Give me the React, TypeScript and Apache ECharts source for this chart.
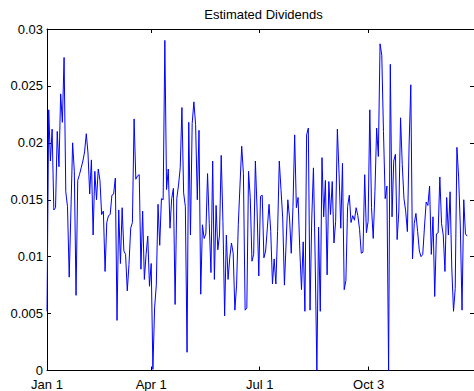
import React, { useEffect, useRef } from "react";
import * as echarts from "echarts";

const dividends: number[] = [
  0.0052, 0.0229, 0.0184, 0.0212, 0.0141, 0.0143, 0.021, 0.0179, 0.0243, 0.0218,
  0.0275, 0.0157, 0.0144, 0.0082, 0.014, 0.02, 0.0175, 0.0066, 0.0167, 0.0172,
  0.0178, 0.0184, 0.0192, 0.0208, 0.0191, 0.0155, 0.0185, 0.0119, 0.0175, 0.015,
  0.0177, 0.0167, 0.0137, 0.014, 0.0087, 0.013, 0.0136, 0.0137, 0.0154, 0.0155,
  0.0169, 0.0044, 0.0141, 0.0094, 0.0143, 0.0105, 0.0102, 0.007, 0.0093, 0.0125,
  0.013, 0.0221, 0.0168, 0.0171, 0.0172, 0.0089, 0.014, 0.008, 0.0102, 0.0118,
  0.0074, 0.0094,
  0.0001, 0.0055, 0.0075, 0.0146, 0.011, 0.0151, 0.015, 0.029, 0.0159, 0.0177,
  0.0125, 0.0151, 0.016, 0.0058, 0.0151, 0.0163, 0.0178, 0.0231, 0.0156, 0.0144,
  0.0016, 0.0218, 0.0119, 0.0217, 0.0236, 0.0216, 0.015, 0.0211, 0.0067, 0.0128,
  0.0116, 0.012, 0.0173, 0.0129, 0.0086, 0.0184, 0.008, 0.0145, 0.0106, 0.0119,
  0.0189, 0.0131, 0.0048, 0.0119, 0.008, 0.0099, 0.0112, 0.0103, 0.0053, 0.0075,
  0.0128, 0.0163, 0.0197, 0.0173, 0.0053, 0.0055, 0.0175, 0.0152, 0.0096, 0.0102,
  0.0184, 0.0141,
  0.0083, 0.0153, 0.0154, 0.0099, 0.0105, 0.0125, 0.0146, 0.0122, 0.0076, 0.0098,
  0.0076, 0.0122, 0.0184, 0.0159, 0.0134, 0.0075, 0.0112, 0.015, 0.0134, 0.0103,
  0.0143, 0.0207, 0.0143, 0.0152, 0.0106, 0.0071, 0.0113, 0.0052, 0.0207, 0.0213,
  0.0053, 0.0133, 0.0178, 0.0099, 0.0, 0.0126, 0.0052, 0.0187, 0.0135, 0.0167,
  0.0084, 0.0166, 0.0137, 0.0166, 0.0112, 0.0131, 0.0212, 0.0173, 0.0125, 0.0182,
  0.0071, 0.0079, 0.0144, 0.0154, 0.013, 0.0136, 0.0132, 0.0143, 0.0136, 0.0124,
  0.0103, 0.0104,
  0.0172, 0.0121, 0.0131, 0.0229, 0.0143, 0.0116, 0.0157, 0.0213, 0.0188, 0.0287,
  0.0277, 0.021, 0.0151, 0.0162, 0.0, 0.0269, 0.0135, 0.0184, 0.019, 0.0115,
  0.014, 0.0222, 0.0181, 0.0151, 0.014, 0.0122, 0.0198, 0.0251, 0.0098, 0.0129,
  0.0138, 0.0122, 0.0105, 0.01, 0.0102, 0.0126, 0.0148, 0.0145, 0.0162, 0.0102,
  0.0135, 0.0065, 0.012, 0.0121, 0.017, 0.0129, 0.0119, 0.0087, 0.0152, 0.0119,
  0.0157, 0.009, 0.0052, 0.0072, 0.0196, 0.017, 0.0126, 0.0053, 0.015, 0.012,
  0.0118,
];

const tickPositions: number[] = [0, 61, 124.5, 188.3];
const tickLabels: string[] = ["Jan 1", "Apr 1", "Jul 1", "Oct 3"];
const xMax = 250;

export default function App() {
  const ref = useRef<HTMLDivElement>(null);
  useEffect(() => {
    if (!ref.current) return;
    const chart = echarts.init(ref.current, undefined, { renderer: "svg" });
    const font = "Liberation Sans, Arial, Helvetica, sans-serif";
    const xCommon = {
      type: "value" as const,
      min: 0,
      max: xMax,
      splitLine: { show: false },
      axisLine: { show: true, onZero: false, lineStyle: { color: "#000", width: 1 } },
      axisTick: {
        show: true,
        inside: true,
        length: 4,
        customValues: tickPositions,
        lineStyle: { color: "#000" },
      },
    };
    const yCommon = {
      type: "value" as const,
      min: 0,
      max: 0.03,
      interval: 0.005,
      splitLine: { show: false },
      axisLine: { show: true, onZero: false, lineStyle: { color: "#000", width: 1 } },
      axisTick: { show: true, inside: true, length: 4, lineStyle: { color: "#000" } },
    };
    chart.setOption({
      animation: false,
      backgroundColor: "#fff",
      grid: { left: 47, top: 29, bottom: 20, right: -6.7, containLabel: false },
      graphic: [
        {
          type: "text",
          x: 263.5,
          y: 14,
          style: {
            text: "Estimated Dividends",
            fontSize: 13,
            fontFamily: font,
            fill: "#000",
            textAlign: "center",
            textVerticalAlign: "middle",
          },
        },
      ],
      xAxis: [
        {
          ...xCommon,
          position: "bottom",
          axisLabel: {
            show: true,
            customValues: tickPositions,
            margin: 8,
            lineHeight: 12,
            color: "#000",
            fontSize: 13,
            fontFamily: font,
            formatter: (v: number) => {
              const i = tickPositions.indexOf(v);
              return i >= 0 ? tickLabels[i] : "";
            },
          },
        },
        { ...xCommon, position: "top", axisLabel: { show: false } },
      ],
      yAxis: [
        {
          ...yCommon,
          position: "left",
          axisLabel: {
            show: true,
            margin: 4,
            lineHeight: 10,
            color: "#000",
            fontSize: 13,
            fontFamily: font,
            formatter: (v: number) => String(+v.toFixed(3)),
          },
        },
        { ...yCommon, position: "right", axisLabel: { show: false } },
      ],
      series: [
        {
          type: "line",
          data: dividends.map((v, i) => [i, v]),
          showSymbol: false,
          symbol: "none",
          lineStyle: { color: "#0000ff", width: 1 },
          clip: true,
        },
      ],
    });
    return () => chart.dispose();
  }, []);
  return (
    <div
      ref={ref}
      style={{ position: "absolute", left: 0, top: 0, width: 474, height: 391 }}
    />
  );
}
